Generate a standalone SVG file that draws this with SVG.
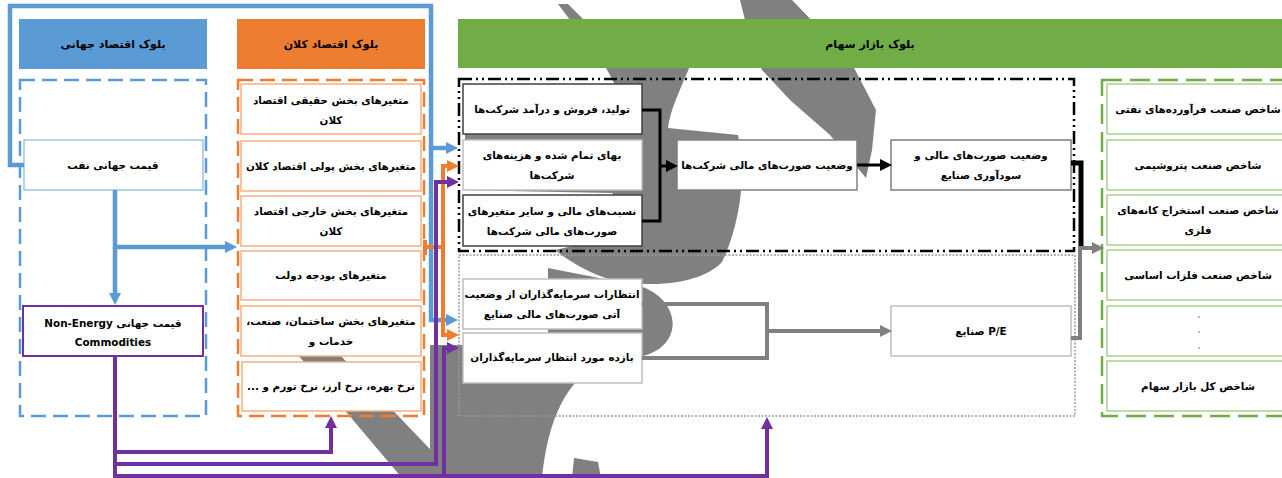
<svg xmlns="http://www.w3.org/2000/svg" width="1282" height="478" viewBox="0 0 1282 478">
<style>
text{font-family:"DejaVu Sans",sans-serif;font-weight:bold;font-size:10.4px;fill:#000;text-anchor:middle;direction:rtl}
.hd{font-size:11px}
.box{fill:#fff}
.bb{stroke:#9DC3E6;stroke-width:1.5}
.ob{stroke:#F4B183;stroke-width:1.5}
.kb{stroke:#404040;stroke-width:1.5}
.gb{stroke:#BFBFBF;stroke-width:1.5}
.db{stroke:#7F7F7F;stroke-width:1.5}
.grb{stroke:#A9D18E;stroke-width:1.5}
.c{fill:none;stroke-linejoin:miter}
.cb{stroke:#5B9BD5;stroke-width:4.5}
.co{stroke:#ED7D31;stroke-width:4}
.cp{stroke:#7030A0;stroke-width:4}
.ck{stroke:#000;stroke-width:3}
.cg{stroke:#808080;stroke-width:4}
.wm{fill:#808080}
</style>
<defs>
<marker id="ab" viewBox="0 0 10 10" refX="0" refY="5" markerWidth="12" markerHeight="13" markerUnits="userSpaceOnUse" orient="auto"><path d="M0,0L10,5L0,10z" fill="#5B9BD5"/></marker>
<marker id="ao" viewBox="0 0 10 10" refX="0" refY="5" markerWidth="12" markerHeight="13" markerUnits="userSpaceOnUse" orient="auto"><path d="M0,0L10,5L0,10z" fill="#ED7D31"/></marker>
<marker id="ap" viewBox="0 0 10 10" refX="0" refY="5" markerWidth="12" markerHeight="13" markerUnits="userSpaceOnUse" orient="auto"><path d="M0,0L10,5L0,10z" fill="#7030A0"/></marker>
<marker id="ak" viewBox="0 0 10 10" refX="0" refY="5" markerWidth="12" markerHeight="12" markerUnits="userSpaceOnUse" orient="auto"><path d="M0,0L10,5L0,10z" fill="#000"/></marker>
<marker id="ag" viewBox="0 0 10 10" refX="0" refY="5" markerWidth="12" markerHeight="13" markerUnits="userSpaceOnUse" orient="auto"><path d="M0,0L10,5L0,10z" fill="#808080"/></marker>
</defs>
<rect width="1282" height="478" fill="#fff"/>

<!-- background watermark -->
<g id="watermark">
<polygon class="wm" points="740,0 792,0 850,60 876,110 872,150 866,178 830,135 790,100 762,70 750,40"/>
<polygon class="wm" points="558,4 568,4 584,20 570,20"/>
<path class="wm" d="M605 66H690C680 90 670 110 668 128L738 135C746 170 742 220 722 262C700 286 640 290 600 276C580 268 565 258 555 250L608 238C620 220 624 205 612 193L465 190L465 128L632 128C628 110 618 90 605 66Z"/>
<path class="wm" d="M548 268L640 286C682 300 684 346 643 356L605 360C565 380 548 420 542 478H430V345H548Z"/>
<polygon class="wm" points="298,355 340,355 448,468 448,478 402,478"/>
<polygon class="wm" points="574,458 598,462 601,478 572,478"/>
</g>

<!-- headers -->
<g id="h-world"><rect x="19" y="19" width="188" height="50" fill="#5B9BD5"/><text class="hd" x="113" y="48">بلوک اقتصاد جهانی</text></g>
<g id="h-macro"><rect x="237" y="19" width="188" height="50" fill="#ED7D31"/><text class="hd" x="331" y="48">بلوک اقتصاد کلان</text></g>
<g id="h-stock"><rect x="458" y="19" width="830" height="49" fill="#70AD47"/><text class="hd" x="870" y="48">بلوک بازار سهام</text></g>

<!-- containers -->
<g id="cont-world"><rect x="20" y="80" width="186" height="336" fill="none" stroke="#5B9BD5" stroke-width="2.5" stroke-dasharray="15 7"/></g>
<g id="cont-macro"><rect x="238" y="80" width="186" height="336" fill="none" stroke="#ED7D31" stroke-width="2.5" stroke-dasharray="15 7"/></g>
<g id="cont-firms"><rect x="459" y="79" width="615" height="172" fill="none" stroke="#000" stroke-width="2.5" stroke-dasharray="13 4 2 4 2 4"/></g>
<g id="cont-invest"><rect x="459" y="255" width="616" height="161" fill="none" stroke="#9A9A9A" stroke-width="1.5" stroke-dasharray="2 1.5"/></g>
<g id="cont-index"><rect x="1102" y="80" width="190" height="336" fill="none" stroke="#70AD47" stroke-width="2.5" stroke-dasharray="20 8"/></g>

<!-- world block -->
<g id="n-oil"><rect class="box bb" x="24" y="140" width="179" height="50"/><text x="113" y="169">قیمت جهانی نفت</text></g>
<g id="n-nonenergy"><rect class="box" x="23" y="306" width="180" height="50" stroke="#7030A0" stroke-width="2"/><text x="113" y="327">قیمت جهانی Non-Energy</text><text x="113" y="346">Commodities</text></g>

<!-- macro block -->
<g id="n-real"><rect class="box ob" x="241" y="84" width="180" height="50"/><text x="331" y="104">متغیرهای بخش حقیقی اقتصاد</text><text x="331" y="124">کلان</text></g>
<g id="n-monetary"><rect class="box ob" x="241" y="141" width="180" height="50"/><text x="331" y="170">متغیرهای بخش پولی اقتصاد کلان</text></g>
<g id="n-external"><rect class="box ob" x="241" y="196" width="180" height="50"/><text x="331" y="215">متغیرهای بخش خارجی اقتصاد</text><text x="331" y="235">کلان</text></g>
<g id="n-budget"><rect class="box ob" x="241" y="251" width="180" height="49"/><text x="331" y="279">متغیرهای بودجه دولت</text></g>
<g id="n-sectors"><rect class="box ob" x="241" y="306" width="180" height="50"/><text x="331" y="325">متغیرهای بخش ساختمان، صنعت،</text><text x="331" y="345">خدمات و</text></g>
<g id="n-rates"><rect class="box ob" x="242" y="362" width="179" height="49"/><text x="331" y="390">نرخ بهره، نرخ ارز، نرخ تورم و ...</text></g>

<!-- firm block -->
<g id="n-sales"><rect class="box kb" x="463" y="84" width="179" height="50"/><text x="552" y="113">تولید، فروش و درآمد شرکت‌ها</text></g>
<g id="n-costs"><rect class="box gb" x="463" y="140" width="179" height="50"/><text x="552" y="159">بهای تمام شده و هزینه‌های</text><text x="552" y="179">شرکت‌ها</text></g>
<g id="n-ratios"><rect class="box kb" x="463" y="195" width="179" height="51"/><text x="552" y="215">نسبت‌های مالی و سایر متغیرهای</text><text x="552" y="235">صورت‌های مالی شرکت‌ها</text></g>
<g id="n-firmfs"><rect class="box db" x="677" y="140" width="180" height="50"/><text x="767" y="169">وضعیت صورت‌های مالی شرکت‌ها</text></g>
<g id="n-indfs"><rect class="box db" x="891" y="140" width="180" height="50"/><text x="981" y="159">وضعیت صورت‌های مالی و</text><text x="981" y="179">سودآوری صنایع</text></g>

<!-- investor block -->
<g id="n-expect"><rect class="box gb" x="463" y="279" width="179" height="50"/><text x="552" y="298">انتظارات سرمایه‌گذاران از وضعیت</text><text x="552" y="318">آتی صورت‌های مالی صنایع</text></g>
<g id="n-return"><rect class="box gb" x="463" y="333" width="179" height="50"/><text x="552" y="361">بازده مورد انتظار سرمایه‌گذاران</text></g>
<g id="n-pe"><rect class="box gb" x="891" y="306" width="180" height="50"/><text x="981" y="335">P/E صنایع</text></g>

<!-- index block -->
<g id="n-oilprod"><rect class="box grb" x="1107" y="84" width="185" height="50"/><text x="1198" y="113">شاخص صنعت فرآورده‌های نفتی</text></g>
<g id="n-petro"><rect class="box grb" x="1107" y="140" width="185" height="50"/><text x="1198" y="169">شاخص صنعت پتروشیمی</text></g>
<g id="n-mining"><rect class="box grb" x="1107" y="195" width="185" height="50"/><text x="1198" y="214">شاخص صنعت استخراج کانه‌های</text><text x="1198" y="234">فلزی</text></g>
<g id="n-metals"><rect class="box grb" x="1107" y="250" width="185" height="50"/><text x="1198" y="279">شاخص صنعت فلزات اساسی</text></g>
<g id="n-dots"><rect class="box grb" x="1107" y="306" width="185" height="50"/><circle cx="1199" cy="317" r="0.8" fill="#666"/><circle cx="1199" cy="332" r="0.8" fill="#666"/><circle cx="1199" cy="348" r="0.8" fill="#666"/></g>
<g id="n-total"><rect class="box grb" x="1107" y="361" width="185" height="50"/><text x="1198" y="390">شاخص کل بازار سهام</text></g>

<!-- connectors -->
<g id="connectors" class="c">
<path class="c cb" d="M24 165H10V6H431V320H446" marker-end="url(#ab)"/>
<path class="c cb" d="M431 148H446" marker-end="url(#ab)"/>
<path class="c cb" d="M115 190V247H225" marker-end="url(#ab)"/>
<path class="c cb" d="M115 247V293" marker-end="url(#ab)"/>
<path class="c co" d="M425 240V255M425 247H443"/>
<path class="c co" d="M443 250V166H447" marker-end="url(#ao)"/>
<path class="c co" d="M443 247V335H447" marker-end="url(#ao)"/>
<path class="c cp" d="M115 356V476H767V429" marker-end="url(#ap)"/>
<path class="c cp" d="M115 452H331V428" marker-end="url(#ap)"/>
<path class="c cp" d="M115 464H436V182H447" marker-end="url(#ap)"/>
<path class="c cp" d="M444 476V348H447" marker-end="url(#ap)"/>
<path class="c ck" d="M642 110H660V221H642M660 166H666" marker-end="url(#ak)"/>
<path class="c ck" d="M857 165H880" marker-end="url(#ak)"/>
<path class="c ck" style="stroke-width:5" d="M1071 163H1081V247"/>
<path class="c cg" d="M1071 338H1080V248H1092" marker-end="url(#ag)"/>
<path class="c cg" d="M642 304H767V358H642M767 331H880" marker-end="url(#ag)"/>
</g>
</svg>
